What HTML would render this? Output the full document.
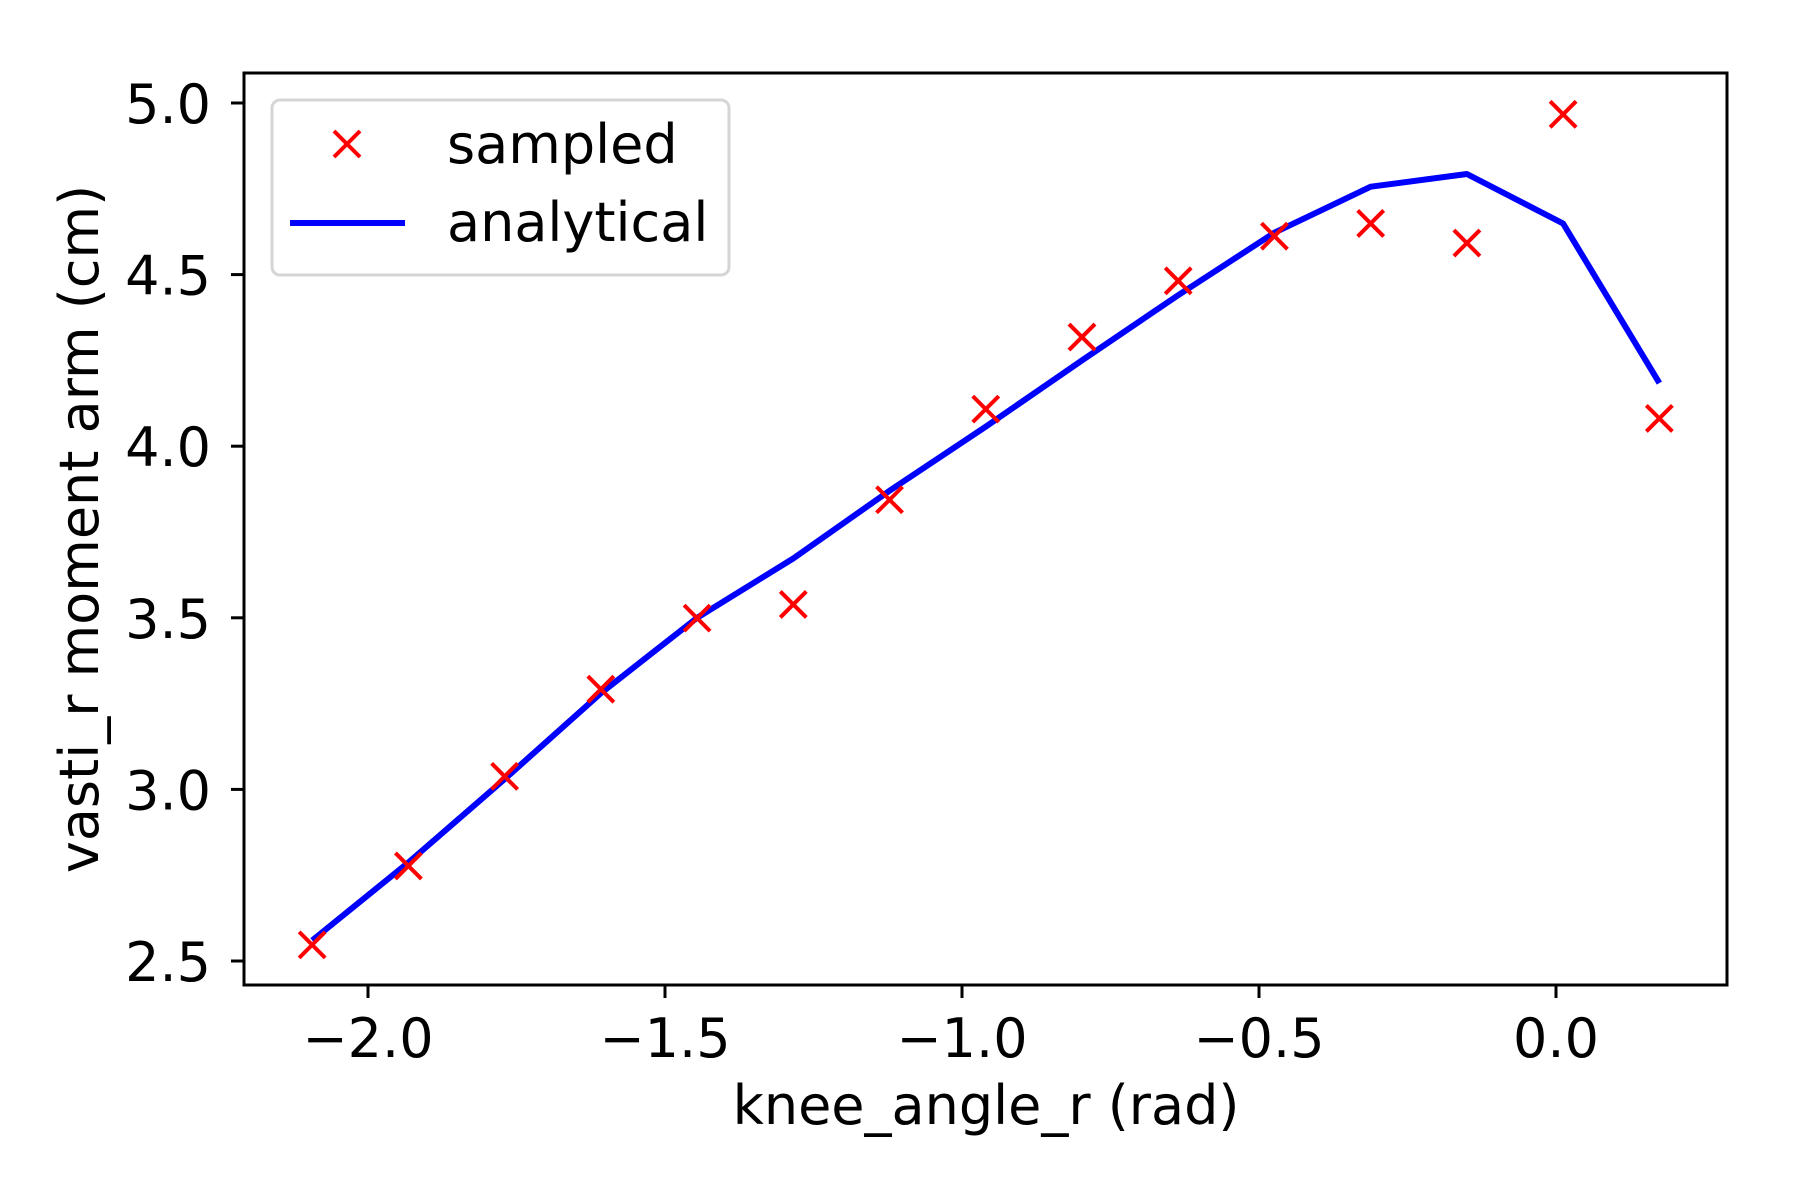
<!DOCTYPE html>
<html><head><meta charset="utf-8"><style>
html,body{margin:0;padding:0;background:#fff;}
svg{display:block;font-family:"DejaVu Sans","Liberation Sans",sans-serif;}
</style></head><body>
<svg id="chart" width="1800" height="1200" viewBox="0 0 1800 1200" xmlns="http://www.w3.org/2000/svg">
<rect width="1800" height="1200" fill="#fff"/>
<g id="plot"></g>
<g id="axes"></g>
<text x="986" y="1124" font-size="54" text-anchor="middle">knee_angle_r (rad)</text>
<text transform="translate(98,529) rotate(-90)" font-size="54" text-anchor="middle">vasti_r moment arm (cm)</text>
<g>
<rect x="272" y="100" width="457" height="175" rx="8" fill="#fff" fill-opacity="0.8" stroke="#d5d5d5" stroke-width="3"/>
<g stroke="red" stroke-width="4">
<line x1="334" y1="131" x2="360" y2="157"/><line x1="334" y1="157" x2="360" y2="131"/></g>
<text x="447" y="163" font-size="54">sampled</text>
<line x1="290" y1="223" x2="405" y2="223" stroke="blue" stroke-width="6"/>
<text x="447" y="241" font-size="54">analytical</text>
</g>
</svg>
<script>
const xValues = [-2.094,-1.932,-1.770,-1.608,-1.446,-1.284,-1.122,-0.960,-0.798,-0.636,-0.474,-0.312,-0.150,0.012,0.174];
const sampledValues = [2.547,2.777,3.038,3.292,3.499,3.539,3.844,4.108,4.318,4.482,4.612,4.649,4.592,4.967,4.081];
const analyticalValues = [2.56,2.787,3.03,3.28,3.50,3.673,3.87,4.057,4.25,4.44,4.622,4.756,4.793,4.649,4.184];
const xTicks = [-2.0,-1.5,-1.0,-0.5,0.0];
const yTicks = [2.5,3.0,3.5,4.0,4.5,5.0];
const xTickLabels = ["\u22122.0","\u22121.5","\u22121.0","\u22120.5","0.0"];
const yTickLabels = ["2.5","3.0","3.5","4.0","4.5","5.0"];

const NS = "http://www.w3.org/2000/svg";
const L=244,R=1727,T=73,B=985;
function xs(v){return 1556 + v*(1556-368)/2.0;}
function ys(v){return 103 + (5.0-v)*(961-103)/2.5;}
function mk(tag,attrs,parent){const e=document.createElementNS(NS,tag);for(const k in attrs)e.setAttribute(k,attrs[k]);parent.appendChild(e);return e;}
const plot=document.getElementById('plot');
const axes=document.getElementById('axes');

const pts=xValues.map((x,i)=>xs(x).toFixed(1)+','+ys(analyticalValues[i]).toFixed(1)).join(' ');
const line=mk('polyline',{points:pts,fill:'none',stroke:'blue','stroke-width':6,'stroke-linejoin':'round'},plot);



xValues.forEach((x,i)=>{
  const cx=xs(x), cy=ys(sampledValues[i]), h=13;
  const g=mk('g',{stroke:'red','stroke-width':4},plot);
  
  
  mk('line',{x1:cx-h,y1:cy-h,x2:cx+h,y2:cy+h},g);
  mk('line',{x1:cx-h,y1:cy+h,x2:cx+h,y2:cy-h},g);
});

const frame=mk('rect',{x:L,y:T,width:R-L,height:B-T,fill:'none',stroke:'#000','stroke-width':3},axes);



xTicks.forEach((v,i)=>{
  const x=xs(v);
  const t=mk('line',{x1:x,y1:B,x2:x,y2:B+13,stroke:'#000','stroke-width':3},axes);
  
  
  const lb=mk('text',{x:x,y:B+72,'font-size':54,'text-anchor':'middle'},axes);
  lb.textContent=xTickLabels[i];
  
  
});
yTicks.forEach((v,i)=>{
  const y=ys(v);
  const t=mk('line',{x1:L-13,y1:y,x2:L,y2:y,stroke:'#000','stroke-width':3},axes);
  
  
  const lb=mk('text',{x:211,y:y+20,'font-size':54,'text-anchor':'end'},axes);
  lb.textContent=yTickLabels[i];
  
  
});
</script>
</body></html>
